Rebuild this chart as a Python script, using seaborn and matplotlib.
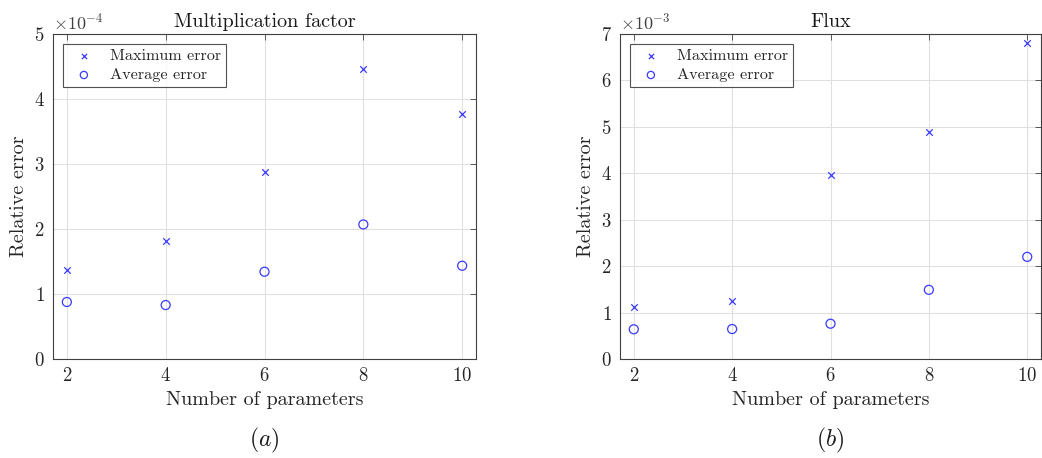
import matplotlib
matplotlib.use("Agg")
import matplotlib.pyplot as plt
import seaborn as sns
import pandas as pd
from matplotlib.ticker import ScalarFormatter

n_params = [2, 4, 6, 8, 10]
k_max_err = [1.363e-4, 1.82e-4, 2.88e-4, 4.46e-4, 3.77e-4]
k_avg_err = [0.877e-4, 0.83e-4, 1.343e-4, 2.07e-4, 1.435e-4]
flux_max_err = [1.11e-3, 1.25e-3, 3.96e-3, 4.89e-3, 6.81e-3]
flux_avg_err = [0.64e-3, 0.645e-3, 0.76e-3, 1.49e-3, 2.20e-3]
titles = ["Multiplication factor", "Flux"]
captions = ["(a)", "(b)"]

sns.set_style("white")
plt.rcParams.update({
    "font.family": "serif",
    "font.serif": ["cmr10", "DejaVu Serif"],
    "mathtext.fontset": "cm",
    "axes.formatter.use_mathtext": True,
    "axes.unicode_minus": False,
})

fig = plt.figure(figsize=(10.42, 4.58), dpi=100)
ax1 = fig.add_axes([53/1042, 1-359/458, (476-53)/1042, (359-34)/458])
ax2 = fig.add_axes([620/1042, 1-359/458, (1041-620)/1042, (359-34)/458])

specs = [
    (ax1, k_max_err, k_avg_err, (0, 5e-4), [i*1e-4 for i in range(6)]),
    (ax2, flux_max_err, flux_avg_err, (0, 7e-3), [i*1e-3 for i in range(8)]),
]
blue = "#3a3aff"
for i, (ax, mx, av, ylim, yt) in enumerate(specs):
    df = pd.DataFrame({"n": n_params, "mx": mx, "av": av})
    sns.scatterplot(data=df, x="n", y="mx", ax=ax, marker="x", s=22,
                    color=blue, linewidth=0.9, label="Maximum error")
    sns.scatterplot(data=df, x="n", y="av", ax=ax, marker="o", s=42,
                    facecolor="none", edgecolor=blue, linewidth=0.9,
                    label="Average error")
    ax.set_xlim(1.72, 10.28)
    ax.set_ylim(*ylim)
    ax.set_xticks(n_params)
    ax.set_yticks(yt)
    fmt = ScalarFormatter(useMathText=True)
    fmt.set_powerlimits((0, 0))
    ax.yaxis.set_major_formatter(fmt)
    ax.grid(True, color="#e0e0e0", linewidth=0.8)
    ax.set_axisbelow(True)
    for sp in ax.spines.values():
        sp.set_color("#404040")
        sp.set_linewidth(0.8)
    ax.tick_params(direction="in", length=4, width=0.6, colors="#404040",
                   labelcolor="#262626", labelsize=13.5, top=True, right=True,
                   pad=6)
    ax.yaxis.get_offset_text().set_fontsize(13)
    ax.yaxis.get_offset_text().set_color("#404040")
    ax.set_title(titles[i], fontsize=14.5, color="#1a1a1a", pad=5)
    ax.set_xlabel("Number of parameters", fontsize=14.5, color="#262626")
    ax.set_ylabel("Relative error", fontsize=14.5, color="#262626")
    leg = ax.legend(loc="upper left", fontsize=11.7, frameon=True, fancybox=False,
                    edgecolor="#262626", borderpad=0.3, handletextpad=0.6,
                    labelspacing=0.3, borderaxespad=0.6, markerscale=0.8)
    leg.get_frame().set_linewidth(0.8)
    pos = ax.get_position()
    fig.text((pos.x0 + pos.x1) / 2, 1 - 440/458, r"$\mathit{" + captions[i] + "}$",
             ha="center", va="center", fontsize=17, color="#1a1a1a")

fig.savefig("out.png", dpi=100)
